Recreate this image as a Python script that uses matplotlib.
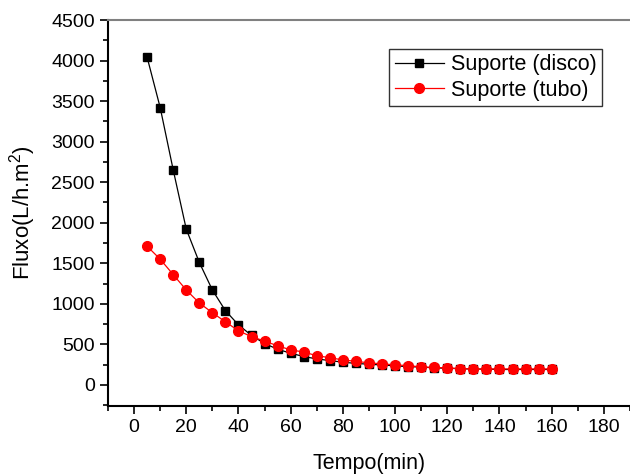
# flux vs time for two membrane supports

import numpy as np
import matplotlib.pyplot as plt

plt.rcParams['font.family'] = ['Liberation Sans', 'DejaVu Sans']
plt.rcParams['mathtext.fontset'] = 'custom'
plt.rcParams['mathtext.rm'] = 'Liberation Sans'
plt.rcParams['mathtext.it'] = 'Liberation Sans'

tempo = list(range(5, 161, 5))
disco = [4040, 3420, 2650, 1920, 1510, 1170, 915, 740, 610, 510, 440, 390,
         350, 320, 300, 280, 265, 255, 245, 235, 225, 220, 210, 205, 200,
         195, 195, 190, 190, 190, 190, 190]
tubo = [1710, 1550, 1360, 1170, 1010, 890, 778, 667, 595, 540, 482, 432,
        405, 360, 335, 308, 290, 272, 260, 247, 238, 222, 215, 210, 200,
        197, 197, 197, 197, 197, 197, 197]

fig = plt.figure(figsize=(6.3, 4.74), dpi=100)
ax = fig.add_axes([0.1714, 0.1435, 0.8286, 0.8143])

ax.plot(tempo, disco, 'k-', marker='s', markersize=6.2, linewidth=0.9, label='Suporte (disco)')
ax.plot(tempo, tubo, 'r-', marker='o', markersize=7, linewidth=0.9, label='Suporte (tubo)')

ax.set_xlim(-10, 190)
ax.set_ylim(-260, 4500)
ax.set_xticks(range(0, 181, 20))
ax.set_xticks(range(-10, 191, 10), minor=True)
ax.set_yticks(range(0, 4501, 500))
ax.set_yticks(range(-250, 4501, 250), minor=True)
ax.tick_params(which='major', direction='out', length=6, width=1.2, labelsize=14)
ax.tick_params(which='minor', direction='out', length=3.5, width=1.2)

ax.spines['right'].set_visible(False)
ax.spines['top'].set_color('#808080')
ax.spines['top'].set_linewidth(1.5)
ax.spines['left'].set_linewidth(1.5)
ax.spines['bottom'].set_linewidth(1.5)

ax.set_xlabel('Tempo(min)', fontsize=15.5)
ax.set_ylabel('Fluxo(L/h.m$^\\mathregular{2}$)', fontsize=16)
ax.xaxis.set_label_coords(0.5, -0.122)
ax.yaxis.set_label_coords(-0.134, 0.5)

leg = ax.legend(loc='upper right', bbox_to_anchor=(0.946, 0.925), fontsize=15.5,
                frameon=True, fancybox=False, edgecolor='black',
                handlelength=2.3, handletextpad=0.3, borderpad=0.25,
                labelspacing=0.2, borderaxespad=0)
leg.get_frame().set_linewidth(1.0)

plt.savefig('out.png', dpi=100)
